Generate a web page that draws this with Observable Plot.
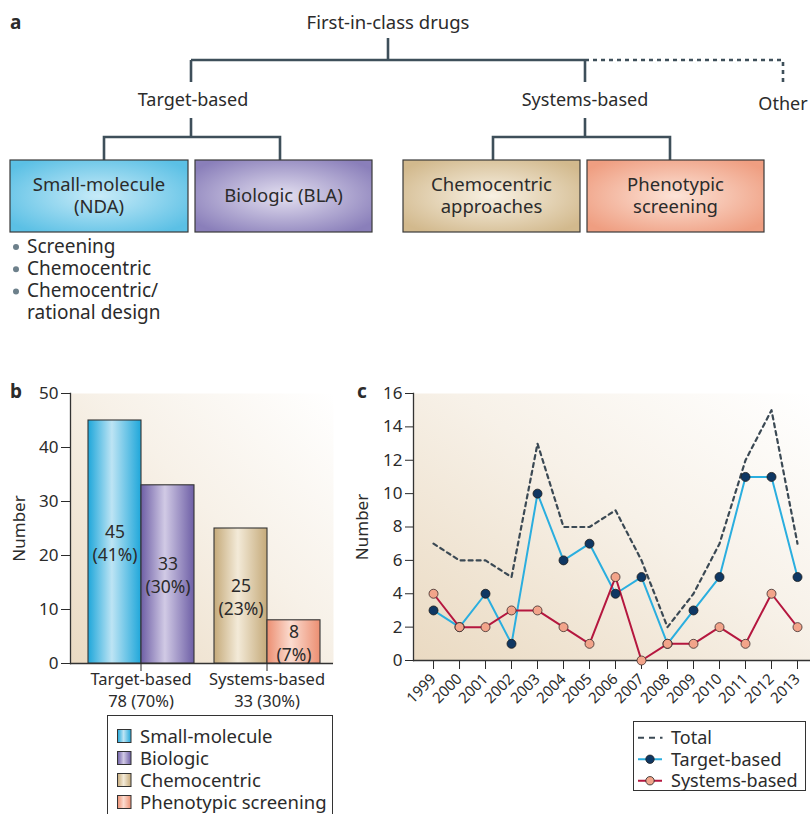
<!DOCTYPE html>
<html>
<head>
<meta charset="utf-8">
<script src="https://cdn.jsdelivr.net/npm/d3@7"></script>
<script src="https://cdn.jsdelivr.net/npm/@observablehq/plot@0.6"></script>
<style>
html,body{margin:0;padding:0;background:#fff;}
#root{position:relative;width:810px;height:814px;overflow:hidden;font-family:"Noto Sans","Open Sans",sans-serif;color:#2b2b2b;}
#root > div{position:absolute;}
#panelB > svg{position:absolute;left:0;top:0;}
.tag{font-weight:bold;font-size:19px;line-height:22px;}
.legend{border:1px solid #333;background:#fff;box-sizing:border-box;display:flex;align-items:flex-start;}
.legend svg{flex:none;display:block;}
.legend .labels{white-space:nowrap;}
#bullets{white-space:nowrap;font-size:19px;line-height:22.3px;}
</style>
</head>
<body>
<div id="root">
  <svg id="defs" width="0" height="0" style="position:absolute"><defs></defs></svg>
  <div id="panelA" style="left:0;top:0"></div>
  <div id="bullets" style="left:27px;top:234.5px"></div>
  <div id="panelB" style="left:0;top:380px;width:345px;height:335px"></div>
  <div id="panelC" style="left:345px;top:380px"></div>
  <div class="tag" style="left:10px;top:380px">b</div>
  <div class="tag" style="left:357px;top:380px">c</div>
  <div id="legendB" class="legend" style="left:107px;top:715px;width:226px;height:120px;padding:9px 0 0 9px;font-size:18.5px;line-height:22px"></div>
  <div id="legendC" class="legend" style="left:633px;top:721px;width:173px;height:70px;padding:5px 0 0 3px;font-size:18px;line-height:21.5px"></div>
</div>
<script>
// ---------------- data ----------------
const rootLabel = "First-in-class drugs";
const branchLabels = ["Target-based", "Systems-based", "Other"];
const leafLabels = ["Small-molecule\n(NDA)", "Biologic (BLA)", "Chemocentric\napproaches", "Phenotypic\nscreening"];
const bulletItems = ["Screening", "Chemocentric", "Chemocentric/\nrational design"];

const barGroups = ["Target-based", "Systems-based"];
const groupSummaries = ["78 (70%)", "33 (30%)"];
const barCategories = ["Small-molecule", "Biologic", "Chemocentric", "Phenotypic screening"];
const barGroupOf = ["Target-based", "Target-based", "Systems-based", "Systems-based"];
const barCounts = [45, 33, 25, 8];
const barShares = ["41%", "30%", "23%", "7%"];

const years = [1999, 2000, 2001, 2002, 2003, 2004, 2005, 2006, 2007, 2008, 2009, 2010, 2011, 2012, 2013];
const totalCounts = [7, 6, 6, 5, 13, 8, 8, 9, 6, 2, 4, 7, 12, 15, 7];
const targetCounts = [3, 2, 4, 1, 10, 6, 7, 4, 5, 1, 3, 5, 11, 11, 5];
const systemsCounts = [4, 2, 2, 3, 3, 2, 1, 5, 0, 1, 1, 2, 1, 4, 2];
const seriesNames = ["Total", "Target-based", "Systems-based"];

// ---------------- styles ----------------
const FONT = '"Noto Sans","Open Sans",sans-serif';
const INK = "#2b2b2b";
const boxFills = [["#c8ebf8", "#5bc0e5"], ["#e3dff0", "#8a7fba"], ["#f8f1e3", "#d2b98d"], ["#fce3d7", "#ef9e81"]];
const barGrad = [["#1fa7da", "#bde4f4"], ["#6e5fa6", "#d1cae5"], ["#c5aa7a", "#f3ead8"], ["#ec8f72", "#fbdcd0"]];
const seriesColors = {total: "#3b4954", target: "#2aaedf", targetDot: "#0f3763", systems: "#b5173f", systemsDot: "#f2a48a"};

// gradient defs (document-wide)
const defs = d3.select("#defs defs");
boxFills.forEach(([c, e], i) => {
  const g = defs.append("radialGradient").attr("id", "ga" + i).attr("cx", "50%").attr("cy", "50%").attr("r", "62%");
  g.append("stop").attr("offset", "0%").attr("stop-color", c);
  g.append("stop").attr("offset", "100%").attr("stop-color", e);
});
barGrad.forEach(([e, c], i) => {
  const g = defs.append("linearGradient").attr("id", "gb" + i).attr("x1", 0).attr("x2", 1).attr("y1", 0).attr("y2", 0);
  g.append("stop").attr("offset", "0%").attr("stop-color", e);
  g.append("stop").attr("offset", "45%").attr("stop-color", c);
  g.append("stop").attr("offset", "100%").attr("stop-color", e);
});
["bgB", "bgC"].forEach(id => {
  const g = defs.append("linearGradient").attr("id", id).attr("x1", 0).attr("y1", 1).attr("x2", 1).attr("y2", 0);
  g.append("stop").attr("offset", "0%").attr("stop-color", "#eadac2");
  g.append("stop").attr("offset", "55%").attr("stop-color", "#f7f1e8");
  g.append("stop").attr("offset", "100%").attr("stop-color", "#ffffff");
});

// ---------------- panel a (diagram) ----------------
{
  const A = d3.select("#panelA").append("svg").attr("width", 810).attr("height", 330)
    .style("font-family", FONT).style("display", "block");
  const lay = {rootX: 388, trunk: [38, 60], busY: 60, branchX: [191, 585, 783], stem: [60, 82],
    labelY: 106, sub: [118, 137], drop: [137, 160], dropX: [104, 280, 493, 670],
    boxes: [[10, 178], [195, 177], [403, 177], [587, 177]], boxTop: 160, boxH: 72};
  const seg = (pts, dash) => A.append("path").attr("d", d3.line()(pts)).attr("fill", "none")
    .attr("stroke", "#3e4f5a").attr("stroke-width", 2.6).attr("stroke-dasharray", dash || null);
  A.append("text").attr("x", 10).attr("y", 29).attr("font-weight", "bold").attr("font-size", 19).attr("fill", INK).text("a");
  A.append("text").attr("x", lay.rootX).attr("y", 29).attr("text-anchor", "middle").attr("font-size", 18.5).attr("fill", INK).text(rootLabel);
  seg([[lay.rootX, lay.trunk[0]], [lay.rootX, lay.trunk[1]]]);
  seg([[lay.branchX[0], lay.busY], [lay.branchX[1], lay.busY]]);
  seg([[lay.branchX[1], lay.busY], [lay.branchX[2], lay.busY], [lay.branchX[2], 86]], "4,4");
  [0, 1].forEach(i => {
    seg([[lay.branchX[i], lay.stem[0]], [lay.branchX[i], lay.stem[1]]]);
    seg([[lay.branchX[i], lay.sub[0]], [lay.branchX[i], lay.sub[1]]]);
    seg([[lay.dropX[2 * i], lay.drop[1]], [lay.dropX[2 * i], lay.drop[0]], [lay.dropX[2 * i + 1], lay.drop[0]], [lay.dropX[2 * i + 1], lay.drop[1]]]);
  });
  branchLabels.forEach((t, i) => A.append("text").attr("x", lay.branchX[i] + (i === 0 ? 2 : 0)).attr("y", i === 2 ? 110 : lay.labelY)
    .attr("text-anchor", "middle").attr("font-size", 18).attr("fill", INK).text(t));
  leafLabels.forEach((t, i) => {
    const [x, w] = lay.boxes[i];
    A.append("rect").attr("x", x).attr("y", lay.boxTop).attr("width", w).attr("height", lay.boxH)
      .attr("fill", `url(#ga${i})`).attr("stroke", "#3a3a3a").attr("stroke-width", 1.2);
    const lines = t.split("\n");
    const tx = A.append("text").attr("text-anchor", "middle").attr("font-size", 18.5).attr("fill", INK);
    lines.forEach((l, j) => tx.append("tspan").attr("x", x + w / 2)
      .attr("y", lay.boxTop + lay.boxH / 2 + 6 + (j - (lines.length - 1) / 2) * 22.5).text(l));
  });
  // bullet markers (text lines are an HTML block)
  let ly = 253;
  const lines = [];
  bulletItems.forEach(t => {
    t.split("\n").forEach((l, j) => {
      if (j === 0) A.append("circle").attr("cx", 16).attr("cy", ly - 6).attr("r", 3).attr("fill", "#6d808b");
      lines.push(l);
      ly += 22.3;
    });
  });
  d3.select("#bullets").html(lines.join("<br>"));
}

// ---------------- panel b (bars) ----------------
const barRows = [];
barCategories.forEach((cat, i) => {
  const group = barGroupOf[i];
  const slot = barRows.filter(r => r.group === group).length;
  barRows.push({category: cat, group, slot, count: barCounts[i], share: barShares[i], fill: `url(#gb${i})`});
});
const frameB = {width: 345, height: 335, marginLeft: 70, marginRight: 12, marginTop: 13, marginBottom: 52,
  style: {fontFamily: FONT, fontSize: "17.5px", color: INK, background: "transparent", overflow: "visible"}};
// base layer: background, y axis, axis lines (not faceted)
const plotBBase = Plot.plot({
  ...frameB,
  y: {domain: [0, 50], axis: null},
  marks: [
    Plot.frame({fill: "url(#bgB)", stroke: "none"}),
    Plot.axisY({ticks: d3.range(0, 51, 10), tickSize: 9, tickPadding: 3, fontSize: 17,
      label: "Number", labelAnchor: "center", labelOffset: 58, labelArrow: "none"}),
    Plot.frame({anchor: "left", stroke: "#333", strokeWidth: 1.3}),
    Plot.ruleY([0], {stroke: "#333", strokeWidth: 1.3})
  ]
});
// bars layer: faceted by group
const plotBBars = Plot.plot({
  ...frameB,
  fx: {domain: barGroups, paddingInner: 0.154, paddingOuter: 0.1165, align: 0.566, label: null},
  x: {domain: [0, 1], padding: 0, axis: null},
  y: {domain: [0, 50], axis: null},
  color: {type: "identity"},
  marks: [
    Plot.barY(barRows, {fx: "group", x: "slot", y: "count", fill: "fill", stroke: "#333", strokeWidth: 1.1}),
    Plot.text(barRows, {fx: "group", x: "slot", y: d => d.count / 2, text: d => `${d.count}\n(${d.share})`, fontSize: 17.5, fill: INK, lineHeight: 1.3}),
    Plot.axisFx({anchor: "bottom", tickSize: 8, tickPadding: -3, fontSize: 16.5, lineHeight: 1.38, label: null,
      tickFormat: g => `${g}\n${groupSummaries[barGroups.indexOf(g)]}`})
  ]
});
document.getElementById("panelB").append(plotBBase, plotBBars);

// ---------------- panel c (lines) ----------------
const lineRows = years.map((y, i) => ({year: y, total: totalCounts[i], target: targetCounts[i], systems: systemsCounts[i]}));
const plotC = Plot.plot({
  width: 465, height: 335, marginLeft: 68, marginRight: 0, marginTop: 13, marginBottom: 55,
  style: {fontFamily: FONT, fontSize: "17.5px", color: INK, background: "transparent", overflow: "visible"},
  x: {domain: [1998.23, 2013.5], axis: null},
  y: {domain: [0, 16], axis: null},
  marks: [
    Plot.frame({fill: "url(#bgC)", stroke: "none"}),
    Plot.axisY({ticks: d3.range(0, 17, 2), tickSize: 8, tickPadding: 3, fontSize: 17,
      label: "Number", labelAnchor: "center", labelOffset: 58, labelArrow: "none"}),
    Plot.axisX({ticks: years, tickSize: 9, tickRotate: -45, tickPadding: 7, fontSize: 15, tickFormat: d => String(d), label: null}),
    Plot.frame({anchor: "left", stroke: "#333", strokeWidth: 1.3}),
    Plot.ruleY([0], {stroke: "#333", strokeWidth: 1.3}),
    Plot.line(lineRows, {x: "year", y: "total", stroke: seriesColors.total, strokeWidth: 2.2, strokeDasharray: "4,4"}),
    Plot.line(lineRows, {x: "year", y: "target", stroke: seriesColors.target, strokeWidth: 2}),
    Plot.line(lineRows, {x: "year", y: "systems", stroke: seriesColors.systems, strokeWidth: 2}),
    Plot.dot(lineRows, {x: "year", y: "target", r: 4.5, fill: seriesColors.targetDot, stroke: "#1a1a1a", strokeWidth: 0.8}),
    Plot.dot(lineRows, {x: "year", y: "systems", r: 4.5, fill: seriesColors.systemsDot, stroke: "#3a2a2a", strokeWidth: 0.8})
  ]
});
document.getElementById("panelC").append(plotC);

// ---------------- legends ----------------
{
  const L = d3.select("#legendB");
  const sb = L.append("svg").attr("width", 23).attr("height", 22 * barCategories.length);
  barCategories.forEach((cat, i) => {
    sb.append("rect").attr("x", 0.5).attr("y", 22 * i + 4.5).attr("width", 13.5).attr("height", 13)
      .attr("fill", `url(#gb${i})`).attr("stroke", "#333").attr("stroke-width", 1);
  });
  L.append("div").attr("class", "labels").html(barCategories.join("<br>"));

  const C = d3.select("#legendC");
  const rh = 21.5;
  const sc = C.append("svg").attr("width", 34).attr("height", rh * seriesNames.length);
  seriesNames.forEach((name, i) => {
    const cy = rh * i + rh / 2;
    if (i === 0) {
      sc.append("line").attr("x1", 1).attr("x2", 32).attr("y1", cy).attr("y2", cy)
        .attr("stroke", seriesColors.total).attr("stroke-width", 2).attr("stroke-dasharray", "6,5,6,5,2.5,10");
    } else {
      const lc = i === 1 ? seriesColors.target : seriesColors.systems;
      const dc = i === 1 ? seriesColors.targetDot : seriesColors.systemsDot;
      sc.append("line").attr("x1", 1).attr("x2", 25).attr("y1", cy).attr("y2", cy).attr("stroke", lc).attr("stroke-width", 2);
      sc.append("circle").attr("cx", 13).attr("cy", cy).attr("r", 4.2).attr("fill", dc).attr("stroke", "#222").attr("stroke-width", 0.8);
    }
  });
  C.append("div").attr("class", "labels").html(seriesNames.join("<br>"));
}
</script>
</body>
</html>
